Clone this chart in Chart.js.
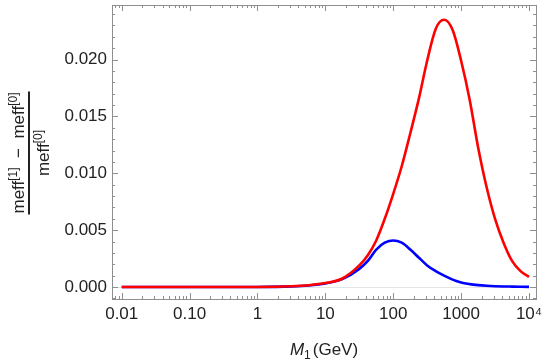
<!DOCTYPE html>
<html>
<head>
<meta charset="utf-8">
<script src="https://cdn.jsdelivr.net/npm/chart.js@4"></script>
<style>
  html, body { margin: 0; padding: 0; background: #fff; }
  canvas { display: block; }
</style>
</head>
<body>
<canvas id="chart" width="545" height="360"></canvas>
<script>
// masses M1 in GeV (log spaced reading points)
const masses = [0.01, 0.1, 1, 3.16, 5.62, 10, 17.8, 31.6, 42.2, 56.2, 75.0, 100, 133, 178, 237, 316, 422, 562, 750, 1000, 1334, 1778, 2371, 3162, 4217, 5623, 7499, 10000];
// relative shift (meff[1]-meff[0])/meff[0]
const redShift = [0, 0, 0.00001, 0.00007, 0.00016, 0.00035, 0.00075, 0.0019, 0.0028, 0.0041, 0.0060, 0.0082, 0.0106, 0.0135, 0.0165, 0.0199, 0.0227, 0.0235, 0.0226, 0.0199, 0.0165, 0.0123, 0.0088, 0.0060, 0.0039, 0.0023, 0.0014, 0.0009];
const blueShift = [0, 0, 0.00001, 0.00006, 0.00014, 0.00032, 0.0007, 0.0016, 0.0023, 0.0033, 0.0039, 0.0041, 0.0039, 0.0033, 0.0026, 0.0019, 0.0014, 0.0010, 0.00065, 0.0004, 0.00026, 0.00017, 0.00011, 0.00007, 0.00005, 0.00004, 0.00003, 0.00002];

const xTicks = [0.01, 0.1, 1, 10, 100, 1000, 10000];
const xTickLabels = ['0.01', '0.10', '1', '10', '100', '1000', '10\u2074'];
const yTicks = [0, 0.005, 0.01, 0.015, 0.02];
const yTickLabels = ['0.000', '0.005', '0.010', '0.015', '0.020'];

const FONT = '"Liberation Sans", Arial, sans-serif';
const frameColor = '#8f8f8f';

// frame with inward ticks on all four sides, plus zero line
const framePlugin = {
  id: 'frame',
  beforeDatasetsDraw(chart) {
    const { ctx, chartArea: a, scales } = chart;
    const y0 = scales.y.getPixelForValue(0);
    ctx.save();
    ctx.strokeStyle = '#e4e4e4';
    ctx.lineWidth = 1;
    ctx.beginPath();
    ctx.moveTo(a.left, Math.round(y0) + 0.5);
    ctx.lineTo(a.right, Math.round(y0) + 0.5);
    ctx.stroke();
    ctx.restore();
  },
  afterDraw(chart) {
    const { ctx, chartArea: a, scales } = chart;
    const x = scales.x, y = scales.y;
    ctx.save();
    ctx.strokeStyle = frameColor;
    ctx.lineWidth = 1;
    ctx.strokeRect(Math.round(a.left) + 0.5, Math.round(a.top) + 0.5, Math.round(a.right - a.left), Math.round(a.bottom - a.top));
    ctx.beginPath();
    // x ticks (log)
    for (let d = -3; d <= 4; d++) {
      for (let m = 1; m <= 9; m++) {
        const v = m * Math.pow(10, d);
        if (v < x.min || v > x.max) continue;
        const px = Math.round(x.getPixelForValue(v)) + 0.5;
        const len = m === 1 ? 6 : 3;
        ctx.moveTo(px, a.bottom); ctx.lineTo(px, a.bottom - len);
        ctx.moveTo(px, a.top); ctx.lineTo(px, a.top + len);
      }
    }
    // y ticks
    for (let k = -1; k <= 24; k++) {
      const v = k * 0.001;
      if (v < y.min || v > y.max) continue;
      const py = Math.round(y.getPixelForValue(v)) + 0.5;
      const len = k % 5 === 0 ? 6 : 3;
      ctx.moveTo(a.left, py); ctx.lineTo(a.left + len, py);
      ctx.moveTo(a.right, py); ctx.lineTo(a.right - len, py);
    }
    ctx.stroke();

    // x axis title: M_1 (GeV)
    ctx.fillStyle = '#222';
    ctx.textBaseline = 'alphabetic';
    const cx = (a.left + a.right) / 2;
    const base = 355;
    ctx.font = 'italic 17px ' + FONT;
    const wM = ctx.measureText('M').width;
    ctx.font = '12px ' + FONT;
    const w1 = ctx.measureText('1').width;
    ctx.font = '17px ' + FONT;
    const wG = ctx.measureText('(GeV)').width;
    let sx = cx - (wM + w1 + 2 + wG) / 2;
    ctx.textAlign = 'left';
    ctx.font = 'italic 17px ' + FONT;
    ctx.fillText('M', sx, base); sx += wM;
    ctx.font = '12px ' + FONT;
    ctx.fillText('1', sx, base + 4); sx += w1 + 2;
    ctx.font = '17px ' + FONT;
    ctx.fillText('(GeV)', sx, base);

    // y axis title: fraction, rotated
    ctx.translate(29, 153);
    ctx.rotate(-Math.PI / 2);
    const parts = [
      ['meff', 17, 0], ['[1]', 12, -7], ['  \u2212  ', 17, 0], ['meff', 17, 0], ['[0]', 12, -7]
    ];
    const widths = parts.map(p => { ctx.font = p[1] + 'px ' + FONT; return ctx.measureText(p[0]).width; });
    const totalN = widths.reduce((s, w) => s + w, 0);
    let tx = -totalN / 2;
    parts.forEach((p, i) => {
      ctx.font = p[1] + 'px ' + FONT;
      ctx.fillText(p[0], tx, -5 + p[2]);
      tx += widths[i];
    });
    ctx.fillRect(-totalN / 2 - 1, -1, totalN + 2, 2);
    ctx.font = '17px ' + FONT;
    const wd1 = ctx.measureText('meff').width;
    ctx.font = '12px ' + FONT;
    const wd2 = ctx.measureText('[0]').width;
    tx = -(wd1 + wd2) / 2;
    ctx.font = '17px ' + FONT;
    ctx.fillText('meff', tx, 20);
    ctx.font = '12px ' + FONT;
    ctx.fillText('[0]', tx + wd1, 13);
    ctx.restore();
  }
};

new Chart(document.getElementById('chart'), {
  type: 'line',
  data: {
    datasets: [
      {
        data: masses.map((m, i) => ({ x: m, y: redShift[i] })),
        borderColor: '#ff0000',
        borderWidth: 2.6,
        cubicInterpolationMode: 'monotone',
        pointRadius: 0
      },
      {
        data: masses.map((m, i) => ({ x: m, y: blueShift[i] })),
        borderColor: '#0000ff',
        borderWidth: 2.6,
        cubicInterpolationMode: 'monotone',
        pointRadius: 0
      }
    ]
  },
  options: {
    responsive: false,
    animation: false,
    layout: { padding: { top: 5, right: 9, left: 0, bottom: 0 } },
    plugins: { legend: { display: false }, tooltip: { enabled: false } },
    scales: {
      x: {
        type: 'logarithmic',
        min: 0.00719,
        max: 12680,
        grid: { display: false, drawTicks: false },
        border: { display: false },
        afterBuildTicks: (scale) => { scale.ticks = xTicks.map(v => ({ value: v })); },
        afterFit: (scale) => {
          scale.height = 61;
          scale.paddingLeft = 0;
          scale.paddingRight = 0;
        },
        ticks: {
          autoSkip: false,
          maxRotation: 0,
          padding: 5,
          color: '#222',
          font: { family: FONT, size: 17 },
          callback: (v) => xTickLabels[xTicks.indexOf(v)]
        }
      },
      y: {
        type: 'linear',
        min: -0.00105,
        max: 0.0248,
        grid: { display: false, drawTicks: false },
        border: { display: false },
        afterBuildTicks: (scale) => { scale.ticks = yTicks.map(v => ({ value: v })); },
        afterFit: (scale) => {
          scale.width = 112;
          scale.paddingTop = 0;
          scale.paddingBottom = 0;
        },
        ticks: {
          padding: 5,
          color: '#222',
          font: { family: FONT, size: 17 },
          callback: (v) => yTickLabels[yTicks.indexOf(v)]
        }
      }
    }
  },
  plugins: [framePlugin]
});
</script>
</body>
</html>
